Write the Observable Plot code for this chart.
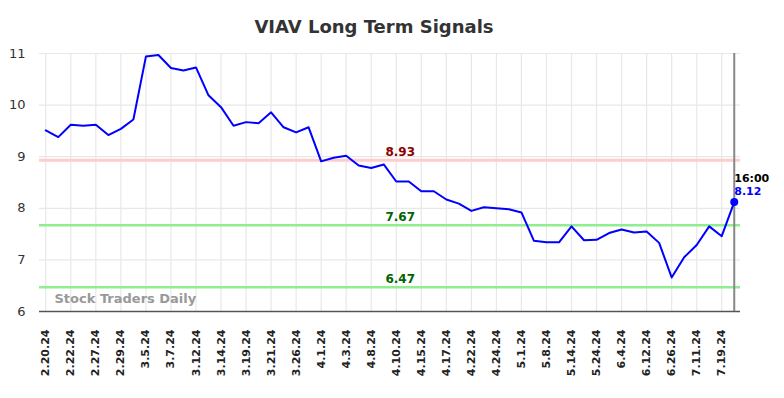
<!DOCTYPE html>
<html>
<head>
<meta charset="utf-8">
<script src="https://cdn.jsdelivr.net/npm/d3@7"></script>
<script src="https://cdn.jsdelivr.net/npm/@observablehq/plot@0.6"></script>
<style>
  html, body { margin: 0; padding: 0; background: #fff; }
  #title { height: 40px; box-sizing: border-box; padding-top: 17px; font-family: "DejaVu Sans", sans-serif; font-weight: bold; font-size: 18px; line-height: 20px; color: #333; width: 748px; text-align: center; }
  svg { display: block; }
</style>
</head>
<body>
<div id="title">VIAV Long Term Signals</div>
<div id="chart"></div>
<script>
const dates = [
  "2.20.24","2.21.24","2.22.24","2.26.24","2.27.24","2.28.24","2.29.24","3.4.24",
  "3.5.24","3.6.24","3.7.24","3.11.24","3.12.24","3.13.24","3.14.24","3.18.24",
  "3.19.24","3.20.24","3.21.24","3.25.24","3.26.24","3.28.24","4.1.24","4.2.24",
  "4.3.24","4.5.24","4.8.24","4.9.24","4.10.24","4.12.24","4.15.24","4.16.24",
  "4.17.24","4.19.24","4.22.24","4.23.24","4.24.24","4.29.24","5.1.24","5.6.24",
  "5.8.24","5.10.24","5.14.24","5.21.24","5.24.24","5.30.24","6.4.24","6.7.24",
  "6.12.24","6.20.24","6.26.24","7.3.24","7.11.24","7.16.24","7.19.24","7.22.24"
];
const values = [
  9.51, 9.38, 9.62, 9.60, 9.62, 9.42, 9.54, 9.72,
  10.94, 10.97, 10.72, 10.67, 10.73, 10.19, 9.96, 9.60,
  9.67, 9.65, 9.86, 9.57, 9.47, 9.57, 8.91, 8.98,
  9.02, 8.83, 8.78, 8.85, 8.52, 8.52, 8.33, 8.33,
  8.17, 8.09, 7.95, 8.02, 8.00, 7.98, 7.92, 7.37,
  7.34, 7.34, 7.65, 7.38, 7.39, 7.52, 7.59, 7.53,
  7.55, 7.33, 6.66, 7.05, 7.29, 7.65, 7.46, 8.12
];
const tickLabels = dates.filter((d, i) => i % 2 === 0);
const yTicks = [6, 7, 8, 9, 10, 11];
const resistance = [8.93];
const supports = [7.67, 6.47];
const lastLabel = "16:00";
const watermark = "Stock Traders Daily";

const data = dates.map((d, i) => ({date: d, value: values[i]}));
const last = data[data.length - 1];
const levelLabelDate = "4.10.24";

const chart = Plot.plot({
  width: 784,
  height: 358,
  marginLeft: 39,
  marginRight: 44,
  marginTop: 13,
  marginBottom: 87,
  style: {fontFamily: "DejaVu Sans, sans-serif", background: "#fff"},
  x: {type: "point", domain: dates, padding: 0.5, round: false, label: null},
  y: {domain: [6, 11], label: null},
  marks: [
    Plot.gridY(yTicks, {stroke: "#e8e8e8", strokeOpacity: 1, strokeWidth: 1.2}),
    Plot.gridX(tickLabels, {stroke: "#e8e8e8", strokeOpacity: 1, strokeWidth: 1.2}),
    Plot.axisY(yTicks, {tickSize: 0, tickPadding: 14, fontSize: 13, fill: "#333", tickFormat: d => String(d)}),
    Plot.axisX(tickLabels, {tickSize: 0, tickRotate: -90, tickPadding: 18, fontSize: 11, fontWeight: "bold", fill: "#222"}),
    Plot.ruleY(resistance, {stroke: "#ffcccc", strokeWidth: 3}),
    Plot.ruleY(supports, {stroke: "#90ee90", strokeWidth: 2.5}),
    Plot.ruleY([6], {stroke: "#555", strokeWidth: 1.5}),
    Plot.ruleX([last.date], {stroke: "#888", strokeWidth: 2}),
    Plot.line(data, {x: "date", y: "value", stroke: "#0000ff", strokeWidth: 2}),
    Plot.dot([last], {x: "date", y: "value", r: 4, fill: "#0000ff"}),
    Plot.text(resistance, {x: () => levelLabelDate, y: d => d, text: d => d.toFixed(2), dx: 4, dy: -8, fill: "#8b0000", fontWeight: "bold", fontSize: 12}),
    Plot.text(supports, {x: () => levelLabelDate, y: d => d, text: d => d.toFixed(2), dx: 4, dy: -8, fill: "#006400", fontWeight: "bold", fontSize: 12}),
    Plot.text([last], {x: "date", y: "value", text: () => lastLabel, dy: -24, textAnchor: "start", fill: "#000", fontWeight: "bold", fontSize: 11}),
    Plot.text([last], {x: "date", y: "value", text: d => d.value.toFixed(2), dy: -11, textAnchor: "start", fill: "#0000ff", fontWeight: "bold", fontSize: 11}),
    Plot.text([watermark], {frameAnchor: "bottom-left", text: d => d, dx: 15, dy: -9, textAnchor: "start", fill: "#999", fontWeight: "bold", fontSize: 13})
  ]
});
document.getElementById("chart").appendChild(chart);
</script>
</body>
</html>
